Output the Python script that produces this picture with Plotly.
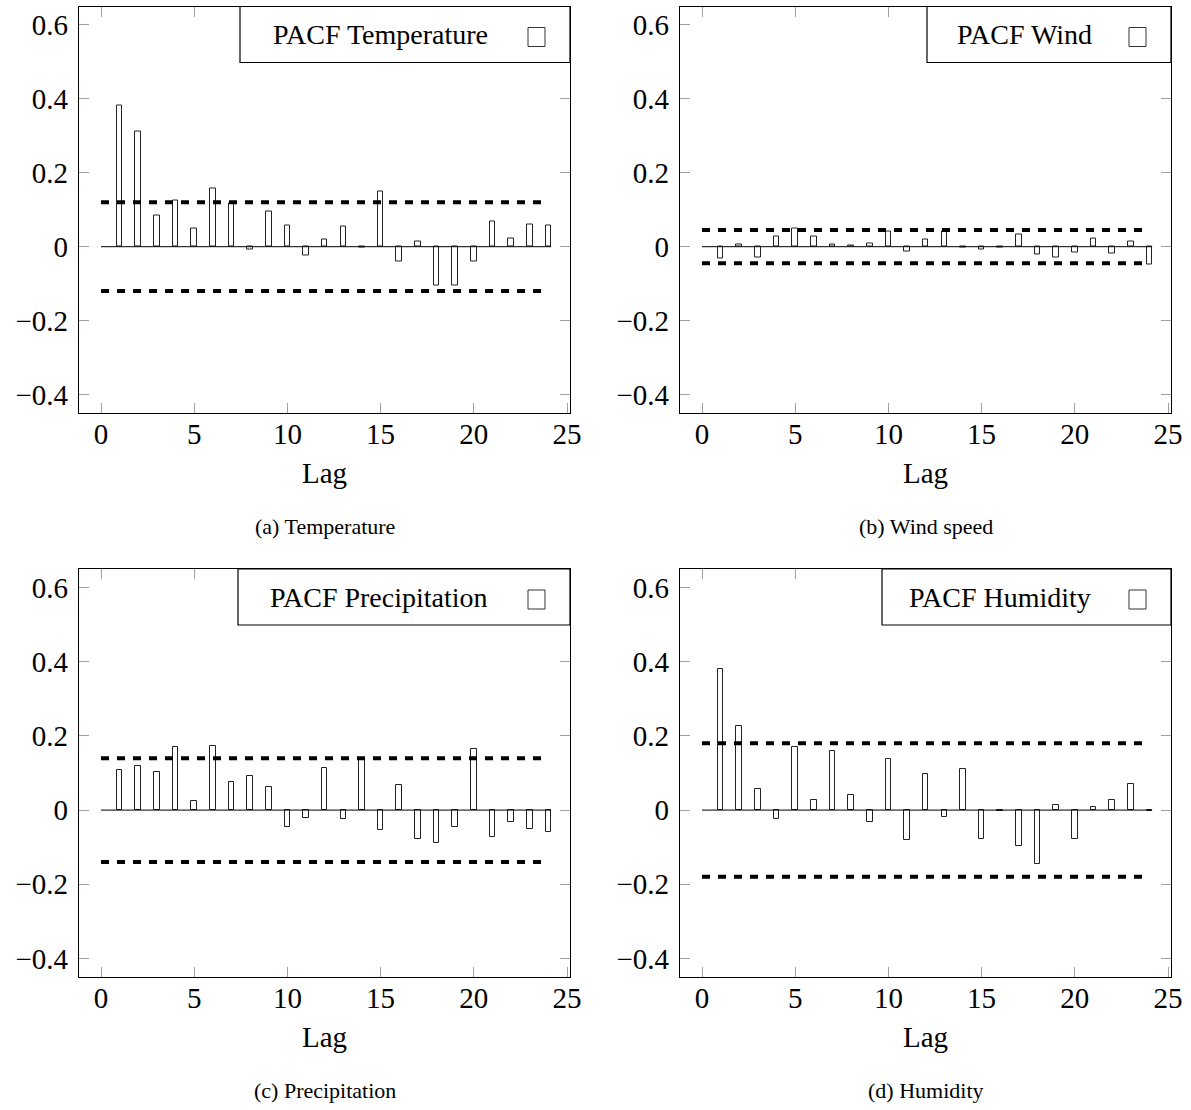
import plotly.graph_objects as go
from plotly.subplots import make_subplots

# Partial autocorrelation by lag for each weather variable
lags = list(range(1, 25))

pacf_temperature = [0.383, 0.313, 0.084, 0.126, 0.050, 0.158, 0.117, -0.007,
                    0.095, 0.057, -0.025, 0.020, 0.054, -0.003, 0.150, -0.041,
                    0.014, -0.105, -0.104, -0.039, 0.068, 0.023, 0.060, 0.057]
pacf_wind = [-0.032, 0.006, -0.028, 0.027, 0.049, 0.028, 0.007, 0.002,
             0.009, 0.041, -0.012, 0.020, 0.041, -0.002, -0.007, -0.001,
             0.033, -0.021, -0.028, -0.015, 0.021, -0.018, 0.013, -0.048]
pacf_precipitation = [0.108, 0.118, 0.104, 0.170, 0.025, 0.174, 0.075, 0.091,
                      0.062, -0.046, -0.020, 0.113, -0.023, 0.141, -0.055, 0.068,
                      -0.078, -0.089, -0.045, 0.165, -0.073, -0.032, -0.051, -0.060]
pacf_humidity = [0.380, 0.227, 0.056, -0.023, 0.169, 0.026, 0.160, 0.040,
                 -0.032, 0.139, -0.080, 0.096, -0.019, 0.112, -0.077, -0.002,
                 -0.097, -0.144, 0.014, -0.078, 0.007, 0.027, 0.071, -0.003]

# Confidence bounds (±)
conf_temperature = 0.12
conf_wind = 0.045
conf_precipitation = 0.14
conf_humidity = 0.18

legend_names = ["PACF Temperature", "PACF Wind", "PACF Precipitation", "PACF Humidity"]
captions = ["(a) Temperature", "(b) Wind speed", "(c) Precipitation", "(d) Humidity"]

x_ticks = [0, 5, 10, 15, 20, 25]
y_ticks = [-0.4, -0.2, 0, 0.2, 0.4, 0.6]
y_ticktext = ["\u22120.4", "\u22120.2", "0", "0.2", "0.4", "0.6"]

panels = [
    (pacf_temperature, conf_temperature, 1, 1),
    (pacf_wind, conf_wind, 1, 2),
    (pacf_precipitation, conf_precipitation, 2, 1),
    (pacf_humidity, conf_humidity, 2, 2),
]

FONT = "Liberation Serif"
W, H = 1191, 1110
BAR_W = 0.3

fig = make_subplots(rows=2, cols=2)

# plot-area placement in pixels: (left, right) columns, (top, bottom) rows
cols_px = [(79, 570), (680, 1171)]
rows_px = [(6.5, 413), (569, 977)]
legend_left_px = [240, 927, 238, 882]
legend_text_center_px = [380, 1024, 379, 1000]

for i, (vals, conf, r, c) in enumerate(panels):
    fig.add_trace(go.Bar(x=lags, y=vals, width=BAR_W,
                         marker=dict(color="white", line=dict(color="#222222", width=1)),
                         showlegend=False), row=r, col=c)
    fig.add_trace(go.Scatter(x=[0, lags[-1] + BAR_W / 2], y=[0, 0], mode="lines",
                             line=dict(color="black", width=1), showlegend=False,
                             hoverinfo="skip"), row=r, col=c)
    for sign in (1, -1):
        fig.add_trace(go.Scatter(x=[0, lags[-1]], y=[sign * conf, sign * conf], mode="lines",
                                 line=dict(color="black", width=4, dash="8px,8px"),
                                 showlegend=False, hoverinfo="skip"), row=r, col=c)

    ax = "" if i == 0 else str(i + 1)
    xl, xr = cols_px[c - 1]
    yt, yb = rows_px[r - 1]
    pw, ph = xr - xl, yb - yt
    fig.layout["xaxis" + ax].update(
        domain=[xl / W, xr / W], range=[-1.18, 25.16], automargin=False,
        tickvals=x_ticks, ticks="inside", ticklen=10, tickcolor="#a0a0a0",
        showline=True, linecolor="black", linewidth=1.2, mirror="allticks",
        showgrid=False, zeroline=False, tickfont=dict(family=FONT, size=29, color="black"),
        title=dict(text="Lag", font=dict(family=FONT, size=29, color="black"), standoff=13),
        ticklabelstandoff=-5,
    )
    fig.layout["yaxis" + ax].update(
        domain=[1 - yb / H, 1 - yt / H], range=[-0.45, 0.65], automargin=False,
        tickvals=y_ticks, ticktext=y_ticktext, ticks="inside", ticklen=10,
        tickcolor="#a0a0a0", showline=True, linecolor="black", linewidth=1.2,
        mirror="allticks", showgrid=False, zeroline=False,
        tickfont=dict(family=FONT, size=29, color="black"), ticklabelstandoff=4,
    )

    xref, yref = "x%s domain" % ax, "y%s domain" % ax
    # legend box in the upper-right corner
    fig.add_shape(type="rect", xref=xref, yref=yref,
                  x0=(legend_left_px[i] - xl) / pw, x1=1,
                  y0=1 - 56 / ph, y1=1,
                  line=dict(color="black", width=1.2), fillcolor="white", layer="above")
    fig.add_shape(type="rect", xref=xref, yref=yref,
                  x0=1 - 42 / pw, x1=1 - 25 / pw,
                  y0=1 - 40 / ph, y1=1 - 21 / ph,
                  line=dict(color="#333333", width=1), fillcolor="white", layer="above")
    fig.add_annotation(text=legend_names[i], xref=xref, yref=yref,
                       x=(legend_text_center_px[i] - xl) / pw, y=1 - 28 / ph,
                       xanchor="center", yanchor="middle", showarrow=False,
                       font=dict(family=FONT, size=28, color="black"))
    # sub-figure caption
    fig.add_annotation(text=captions[i], xref="paper", yref="paper",
                       x=(xl + xr) / 2 / W, y=1 - (yb + 113) / H,
                       xanchor="center", yanchor="middle", showarrow=False,
                       font=dict(family=FONT, size=22, color="black"))

fig.update_layout(width=W, height=H, autosize=False, margin=dict(l=0, r=0, t=0, b=0),
                  plot_bgcolor="white", paper_bgcolor="white", bargap=0)

fig.write_html("out.html", config={"responsive": False})
